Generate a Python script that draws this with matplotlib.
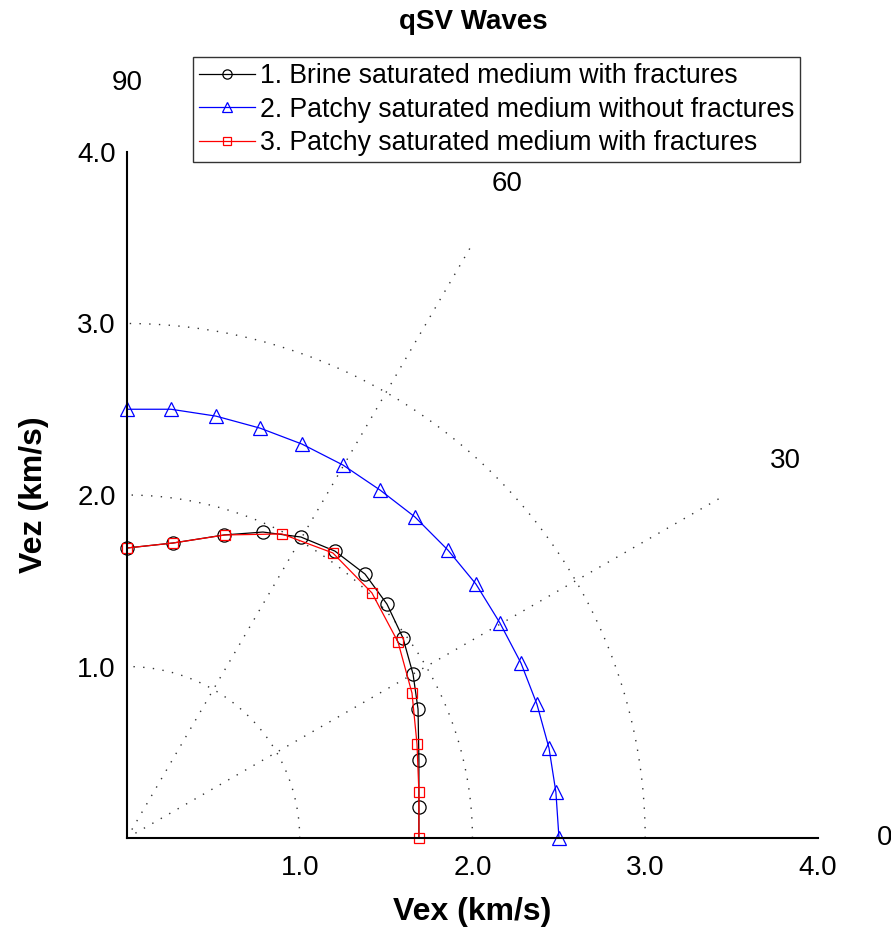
import numpy as np
import matplotlib
matplotlib.use("Agg")
import matplotlib.pyplot as plt

plt.rcParams['font.family'] = ['Liberation Sans', 'DejaVu Sans']

# 1. brine saturated, with fractures (black circles)
brine_x = [0.0, 0.266, 0.562, 0.787, 1.007, 1.204, 1.378, 1.505, 1.598, 1.656, 1.685, 1.690, 1.690, 1.690]
brine_z = [1.691, 1.720, 1.767, 1.784, 1.755, 1.673, 1.539, 1.364, 1.166, 0.956, 0.752, 0.455, 0.181, 0.0]

# 2. patchy saturated, without fractures (blue triangles)
patchy_x = [0.0, 0.255, 0.515, 0.770, 1.013, 1.250, 1.465, 1.667, 1.858, 2.020, 2.159, 2.281, 2.373, 2.443, 2.483, 2.501]
patchy_z = [2.50, 2.50, 2.46, 2.39, 2.297, 2.175, 2.029, 1.872, 1.679, 1.481, 1.254, 1.020, 0.781, 0.525, 0.268, 0.0]

# 3. patchy saturated, with fractures (red squares)
patchyf_x = [0.0, 0.266, 0.567, 0.897, 1.192, 1.418, 1.569, 1.650, 1.679, 1.690, 1.690]
patchyf_z = [1.691, 1.720, 1.767, 1.773, 1.662, 1.429, 1.143, 0.845, 0.548, 0.268, 0.0]

grid_radii = [1.0, 2.0, 3.0]
ray_angles = [30, 60]
angle_labels = ['0', '30', '60', '90']
ticks = [1.0, 2.0, 3.0, 4.0]

fig = plt.figure(figsize=(8.91, 9.33), dpi=100)
ax = fig.add_axes([0.1425, 0.1018, 0.7755, 0.7353])

dot = dict(color='#333333', lw=1.0, ls=(0, (1, 6)))
t = np.linspace(0, np.pi / 2, 200)
for r in grid_radii:
    ax.plot(r * np.cos(t), r * np.sin(t), **dot)
for a in ray_angles:
    ar = np.radians(a)
    ax.plot([0, 4 * np.cos(ar)], [0, 4 * np.sin(ar)], **dot)

l1, = ax.plot(brine_x, brine_z, color='black', lw=0.9, marker='o', ms=9.5,
              mfc='none', mec='black', mew=0.9, markevery=list(range(13)),
              clip_on=False, label='1. Brine saturated medium with fractures')
l2, = ax.plot(patchy_x, patchy_z, color='blue', lw=0.9, marker='^', ms=10,
              mfc='none', mec='blue', mew=0.9, clip_on=False,
              label='2. Patchy saturated medium without fractures')
l3, = ax.plot(patchyf_x, patchyf_z, color='red', lw=0.9, marker='s', ms=7.5,
              mfc='none', mec='red', mew=0.9, clip_on=False,
              label='3. Patchy saturated medium with fractures')

# angle labels
for lab in angle_labels:
    ar = np.radians(float(lab))
    r = 4.4
    x, y = r * np.cos(ar), r * np.sin(ar)
    if lab == '0':
        ax.text(4.34, 0, lab, fontsize=20, ha='left', va='center', clip_on=False)
    else:
        ax.text(x, y, lab, fontsize=20, ha='center', va='center', clip_on=False)

ax.set_xlim(0, 4)
ax.set_ylim(0, 4)
ax.set_xticks(ticks)
ax.set_yticks(ticks)
ax.set_xticklabels(['%.1f' % v for v in ticks], fontsize=20)
ax.set_yticklabels(['%.1f' % v for v in ticks], fontsize=20)
ax.tick_params(axis='x', length=0, pad=12)
ax.tick_params(axis='y', length=0, pad=8)
ax.spines['top'].set_visible(False)
ax.spines['right'].set_visible(False)
ax.spines['left'].set_linewidth(1.5)
ax.spines['bottom'].set_linewidth(1.5)

ax.set_xlabel('Vex (km/s)', fontsize=23, fontweight='bold', labelpad=12)
ax.set_ylabel('Vez (km/s)', fontsize=23, fontweight='bold', labelpad=20)
fig.text(0.531, 0.976, 'qSV Waves', fontsize=20, fontweight='bold',
         ha='center', va='center')

leg = fig.legend(handles=[l1, l2, l3], loc='upper left',
                 bbox_to_anchor=(193 / 891, 1 - 57 / 933), fontsize=19.2,
                 frameon=True, fancybox=False, edgecolor='black',
                 handlelength=2.1, handletextpad=0.2, labelspacing=0.29,
                 borderpad=0.22, borderaxespad=0)
leg.get_frame().set_linewidth(1.0)
for h in leg.legend_handles:
    h.set_markersize(h.get_markersize() * 0.7)

fig.savefig('out.png', dpi=100)
